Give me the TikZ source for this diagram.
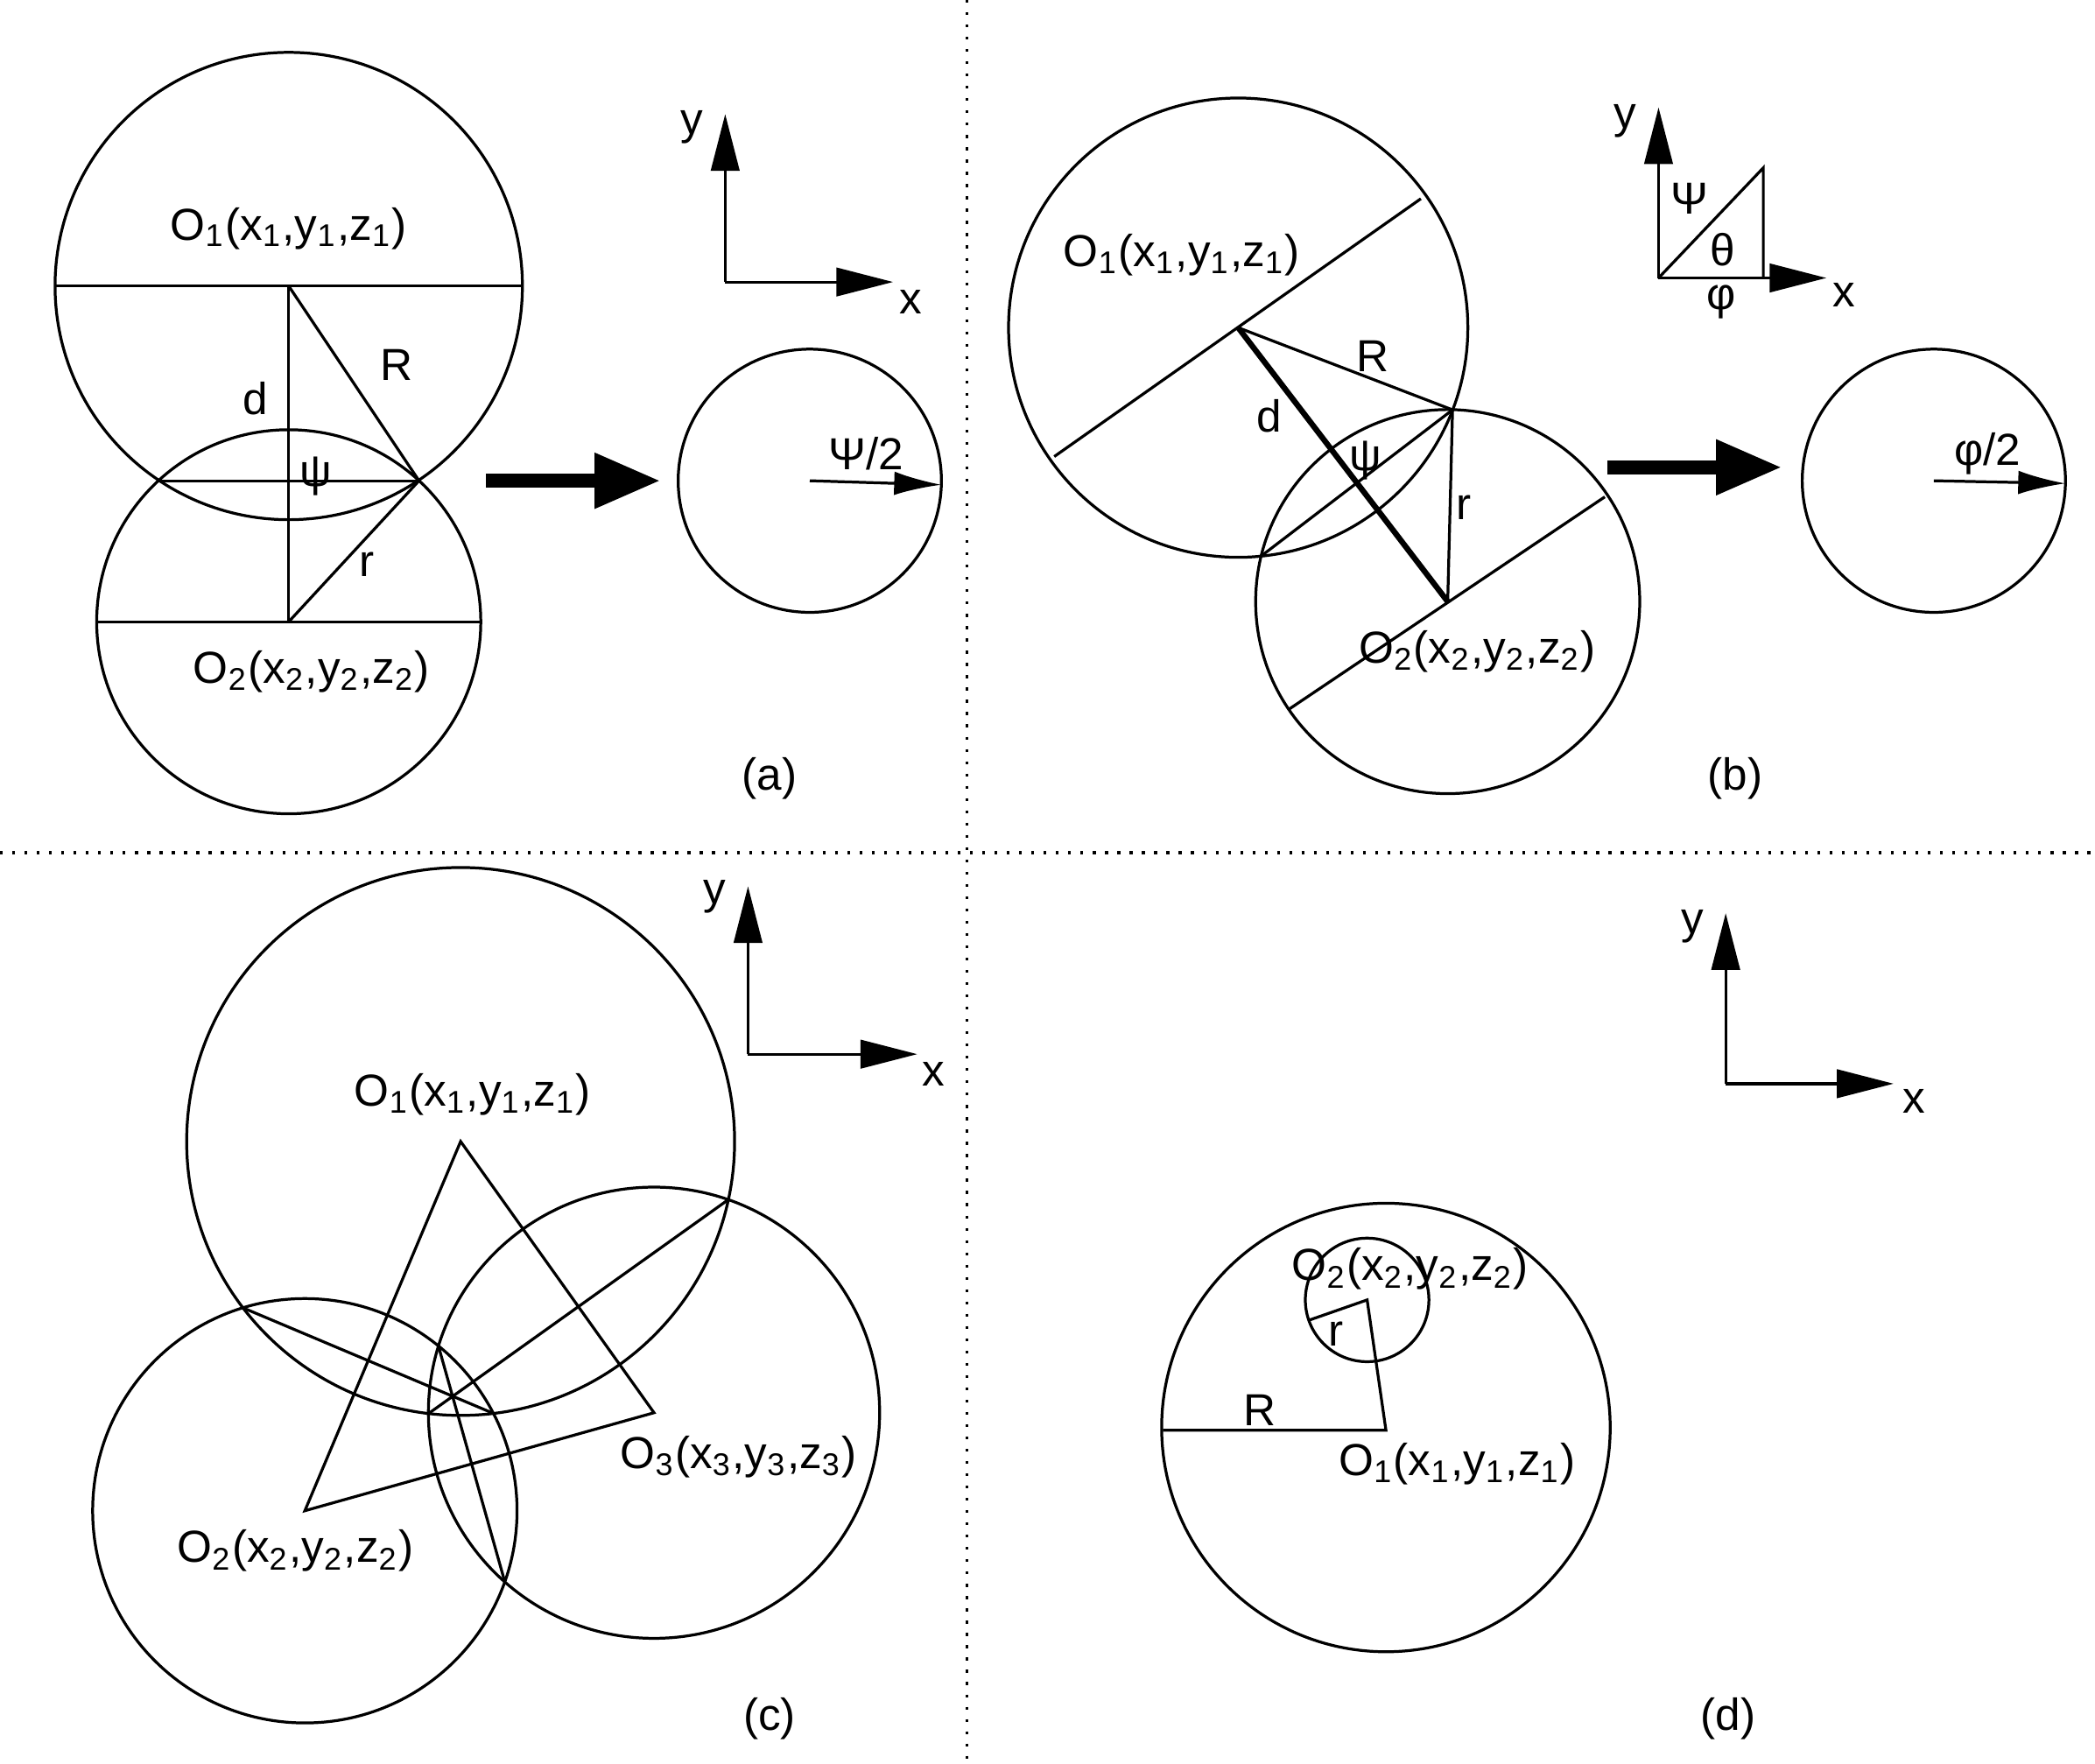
\documentclass[tikz,border=0pt]{standalone}
\usepackage{fontspec}
\setmainfont{Liberation Sans}
\usetikzlibrary{arrows.meta,intersections}
\newcommand{\sbs}[1]{\textsubscript{#1}}
\begin{document}
\begin{tikzpicture}[x=0.01cm,y=-0.01cm,line width=0.6pt,
  lbl/.style={inner sep=1pt,font=\fontsize{9.5}{11}\selectfont},
  ax/.style={-{Triangle[length=12pt,width=6pt]}},
  big/.style={line width=3pt,-{Triangle[length=14pt,width=11pt]}},
  dot/.style={dotted,line width=0.6pt}]
\useasboundingbox (0,0) rectangle (1560,1313);
\draw[dot] (720,0) -- (720,1313);
\draw[dot] (0,635) -- (1560,635);
% ---------- (a)
\coordinate (a1) at (215,213); \coordinate (a2) at (215,463); \coordinate (ap) at (312,358); \coordinate (aq) at (118,358);
\draw (a1) circle (174); \draw (a2) circle (143);
\draw (41,213) -- (389,213); \draw (72,463) -- (358,463);
\draw (a1) -- (a2); \draw (a1) -- (ap); \draw (a2) -- (ap); \draw (aq) -- (ap);
\node[lbl] at (215,170) {O\sbs{1}(x\sbs{1},y\sbs{1},z\sbs{1})};
\node[lbl] at (190,297) {d};
\node[lbl] at (295,272) {R};
\node[lbl] at (235,355) {ψ};
\node[lbl] at (273,420) {r};
\node[lbl] at (232,500) {O\sbs{2}(x\sbs{2},y\sbs{2},z\sbs{2})};
\node[lbl] at (573,580) {(a)};
\coordinate (ba1) at (362,358); \coordinate (ba2) at (492,358);
\draw[big] (ba1) -- (ba2);
\coordinate (ac) at (603,358); \coordinate (ae) at (701,361);
\draw (ac) circle (98);
\draw[-{Latex[length=10pt,width=5pt]}] (ac) -- (ae);
\node[lbl] at (645,338) {Ψ/2};
\coordinate (ao) at (540,210);
\draw[ax] (ao) -- (540,85); \draw[ax] (ao) -- (665,210);
\node[lbl] at (515,95) {y}; \node[lbl] at (678,225) {x};
% ---------- (b)
\coordinate (b1) at (922,244); \coordinate (b2) at (1078,448);
\coordinate (bp) at (1081.6,305.2); \coordinate (bq) at (939.2,414);
\draw (b1) circle (171); \draw (b2) circle (143);
\draw (785,340) -- (1058,148); \draw (960,528) -- (1195,370);
\draw[line width=1.2pt] (b1) -- (b2);
\draw (b1) -- (bp); \draw (b2) -- (bp); \draw (bq) -- (bp);
\node[lbl] at (880,190) {O\sbs{1}(x\sbs{1},y\sbs{1},z\sbs{1})};
\node[lbl] at (1022,265) {R};
\node[lbl] at (945,310) {d};
\node[lbl] at (1017,343) {ψ};
\node[lbl] at (1090,378) {r};
\node[lbl] at (1100,485) {O\sbs{2}(x\sbs{2},y\sbs{2},z\sbs{2})};
\node[lbl] at (1292,580) {(b)};
\draw[big] (1197,348) -- (1327,348);
\coordinate (bc) at (1440,358);
\draw (bc) circle (98);
\draw[-{Latex[length=10pt,width=5pt]}] (bc) -- (1538,360);
\node[lbl] at (1480,338) {φ/2};
\coordinate (bo) at (1235,207);
\draw[ax] (bo) -- (1235,80); \draw[ax] (bo) -- (1360,207);
\draw (bo) -- (1313,125) -- (1313,207);
\node[lbl] at (1210,90) {y}; \node[lbl] at (1373,220) {x};
\node[lbl] at (1258,148) {Ψ}; \node[lbl] at (1283,186) {θ}; \node[lbl] at (1282,225) {φ};
% ---------- (c)
\coordinate (c1) at (343,850); \coordinate (c2) at (227,1125); \coordinate (c3) at (487,1052);
\draw[name path=C1] (c1) circle (204);
\draw[name path=C2] (c2) circle (158);
\draw[name path=C3] (c3) circle (168);
\draw (c1) -- (c2) -- (c3) -- cycle;
\path[name intersections={of=C1 and C2,name=i}];
\draw (i-1) -- (i-2);
\path[name intersections={of=C1 and C3,name=j}];
\draw (j-1) -- (j-2);
\path[name intersections={of=C2 and C3,name=k}];
\draw (k-1) -- (k-2);
\node[lbl] at (352,815) {O\sbs{1}(x\sbs{1},y\sbs{1},z\sbs{1})};
\node[lbl] at (220,1155) {O\sbs{2}(x\sbs{2},y\sbs{2},z\sbs{2})};
\node[lbl] at (550,1085) {O\sbs{3}(x\sbs{3},y\sbs{3},z\sbs{3})};
\node[lbl] at (573,1280) {(c)};
\coordinate (co) at (557,785);
\draw[ax] (co) -- (557,660); \draw[ax] (co) -- (683,785);
\node[lbl] at (532,668) {y}; \node[lbl] at (695,800) {x};
% ---------- (d)
\coordinate (d1) at (1032,1065); \coordinate (d2) at (1018,968);
\draw (1032,1063) circle (167);
\draw (d2) circle (46);
\draw (866,1065) -- (d1) -- (d2) -- (975,983);
\node[lbl] at (938,1050) {R};
\node[lbl] at (995,993) {r};
\node[lbl] at (1050,945) {O\sbs{2}(x\sbs{2},y\sbs{2},z\sbs{2})};
\node[lbl] at (1085,1090) {O\sbs{1}(x\sbs{1},y\sbs{1},z\sbs{1})};
\node[lbl] at (1287,1280) {(d)};
\coordinate (do) at (1285,807);
\draw[ax] (do) -- (1285,680); \draw[ax] (do) -- (1410,807);
\node[lbl] at (1260,690) {y}; \node[lbl] at (1425,820) {x};
\end{tikzpicture}
\end{document}
